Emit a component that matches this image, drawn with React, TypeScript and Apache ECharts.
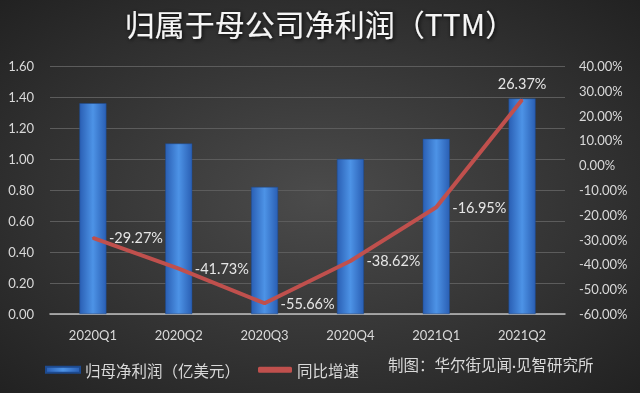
import React, { useEffect, useRef } from "react";
import * as echarts from "echarts";

const categories = ["2020Q1", "2020Q2", "2020Q3", "2020Q4", "2021Q1", "2021Q2"];
const profitValues = [1.36, 1.1, 0.82, 1.0, 1.13, 1.39];
const growthValues = [-29.27, -41.73, -55.66, -38.62, -16.95, 26.37];
const titleText = "归属于母公司净利润（TTM）";
const barName = "归母净利润（亿美元）";
const lineName = "同比增速";
const sourceText = "制图：华尔街见闻·见智研究所";

const FONT = "Lato, 'Noto Sans CJK SC', sans-serif";
const CJK = "'Noto Sans CJK SC', sans-serif";

export default function App() {
  const ref = useRef<HTMLDivElement>(null);
  useEffect(() => {
    if (!ref.current) return;
    const chart = echarts.init(ref.current, null, { renderer: "svg" });
    const barColor = {
      type: "linear", x: 0, y: 0, x2: 1, y2: 0,
      colorStops: [
        { offset: 0, color: "#2a5fb4" },
        { offset: 0.5, color: "#4d93e6" },
        { offset: 1, color: "#2a5fb4" },
      ],
    };
    chart.setOption({
      animation: false,
      backgroundColor: {
        type: "radial", x: 0.5, y: 0.5, r: 0.75,
        colorStops: [
          { offset: 0, color: "#4b4b4b" },
          { offset: 1, color: "#1f1f1f" },
        ],
      },
      title: {
        text: titleText,
        left: "center",
        top: 3,
        textStyle: {
          color: "#f5f5f5",
          fontSize: 30,
          fontWeight: "normal",
          fontFamily: CJK,
          textShadowColor: "rgba(0,0,0,0.9)",
          textShadowBlur: 4,
          textShadowOffsetX: 1,
          textShadowOffsetY: 1,
        },
      },
      grid: { left: 50, right: 75, top: 66, bottom: 79 },
      legend: {
        left: 40,
        top: 357,
        itemWidth: 34,
        itemHeight: 6,
        itemGap: 18,
        textStyle: { color: "#d9d9d9", fontSize: 15.5, fontFamily: CJK },
        data: [
          { name: barName, icon: "rect" },
          { name: lineName, icon: "roundRect", itemStyle: { color: "#c0504d" } },
        ],
      },
      graphic: [
        {
          type: "text",
          left: 388,
          top: 357,
          style: {
            text: sourceText,
            fill: "#d9d9d9",
            fontSize: 15.5,
            fontFamily: FONT,
          },
        },
      ],
      xAxis: {
        type: "category",
        data: categories,
        axisLine: { lineStyle: { color: "#bfbfbf", width: 1.5 } },
        axisTick: { show: false },
        axisLabel: { color: "#d9d9d9", fontSize: 13, fontFamily: FONT, margin: 14 },
      },
      yAxis: [
        {
          type: "value",
          min: 0,
          max: 1.6,
          interval: 0.2,
          axisLine: { show: false },
          axisTick: { show: false },
          splitLine: { lineStyle: { color: "#5c5c5c", width: 1 } },
          axisLabel: {
            color: "#d9d9d9",
            fontSize: 13,
            fontFamily: FONT,
            margin: 16,
            formatter: (v: number) => v.toFixed(2),
          },
        },
        {
          type: "value",
          min: -60,
          max: 40,
          interval: 10,
          axisLine: { show: false },
          axisTick: { show: false },
          splitLine: { show: false },
          axisLabel: {
            color: "#d9d9d9",
            fontSize: 13,
            fontFamily: FONT,
            margin: 14,
            formatter: (v: number) => v.toFixed(2) + "%",
          },
        },
      ],
      series: [
        {
          name: barName,
          type: "bar",
          data: profitValues,
          barWidth: 27,
          itemStyle: { color: barColor, borderColor: "#1d4a8f", borderWidth: 0.5 },
        },
        {
          name: lineName,
          type: "line",
          yAxisIndex: 1,
          data: growthValues.map((v, i) =>
            i === growthValues.length - 1
              ? { value: v, label: { position: "top", distance: 8 } }
              : { value: v }
          ),
          showSymbol: true,
          symbol: "circle",
          symbolSize: 2,
          lineStyle: { color: "#c0504d", width: 4 },
          itemStyle: { color: "#c0504d" },
          label: {
            show: true,
            position: "right",
            distance: 15,
            color: "#e6e6e6",
            fontSize: 14.5,
            fontFamily: FONT,
            formatter: (p: any) => Number(p.value).toFixed(2) + "%",
          },
        },
      ],
    });
    return () => chart.dispose();
  }, []);
  return (
    <div
      ref={ref}
      style={{ position: "fixed", left: 0, top: 0, width: 640, height: 393 }}
    />
  );
}
